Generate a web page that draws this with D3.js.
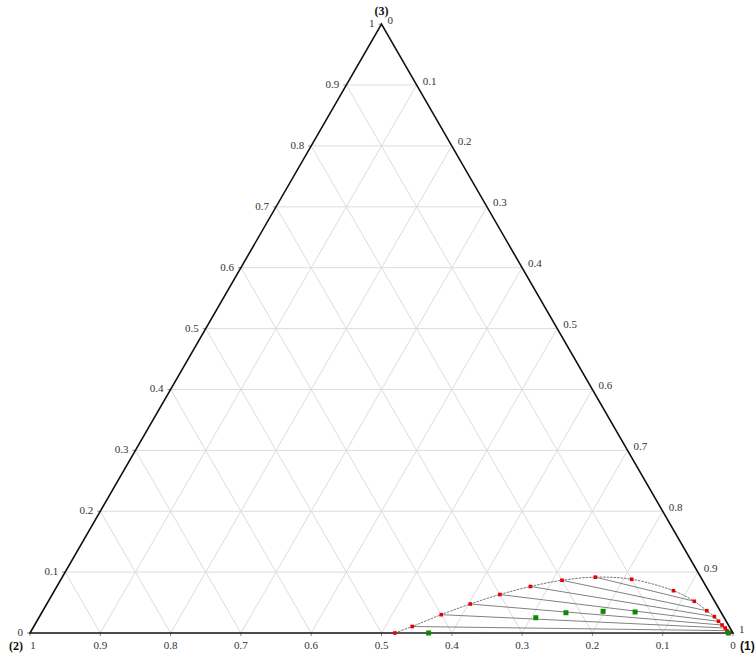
<!DOCTYPE html>
<html>
<head>
<meta charset="utf-8">
<script src="https://cdn.jsdelivr.net/npm/d3@7"></script>
<style>
  html, body { margin: 0; padding: 0; background: #fff; }
  svg { display: block; }
  .serif { font-family: "Liberation Serif", "Times New Roman", Times, serif; }
  .sans { font-family: "Liberation Sans", Arial, Helvetica, sans-serif; }
</style>
</head>
<body>
<script>
// Ternary LLE diagram: components (1), (2), (3) as mass fractions x1, x2, x3

// Tick values shared by all three axes
const tickValues = [0, 0.1, 0.2, 0.3, 0.4, 0.5, 0.6, 0.7, 0.8, 0.9, 1];
const tickLabels = ["0", "0.1", "0.2", "0.3", "0.4", "0.5", "0.6", "0.7", "0.8", "0.9", "1"];
const vertexNames = ["(1)", "(2)", "(3)"];

// Binodal (solubility) curve, from the (2)-rich side round to the (1) corner
const binodalX2 = [0.481, 0.451, 0.400, 0.350, 0.300, 0.250, 0.200, 0.150,
                   0.100, 0.050, 0.029, 0.019, 0.013, 0.011, 0.009, 0.007, 0.0067, 0.005];
const binodalX3 = [0.000, 0.0107, 0.0301, 0.0476, 0.0632, 0.0764, 0.0866, 0.0917,
                   0.0882, 0.0695, 0.0521, 0.0366, 0.0268, 0.0192, 0.0131, 0.0082, 0.0038, 0.0005];

// Tie lines: index of each end point in the binodal arrays
const tieStart = [0, 1, 2, 3, 4, 5, 6, 7];
const tieEnd   = [17, 16, 15, 14, 13, 12, 11, 10];

// Overall (feed) compositions
const feedX2 = [0.433, 0.268, 0.221, 0.167, 0.122, 0.0067];
const feedX3 = [0.000, 0.0251, 0.0333, 0.0356, 0.0345, 0.000];

const W = 756, H = 658;
const left = 30, right = 733, baseY = 633;
const side = right - left;
const tHeight = side * Math.sqrt(3) / 2;

// Horizontal position follows x1 + x3/2, vertical position follows x3
const sx = d3.scaleLinear().domain([0, 1]).range([left, right]);
const sy = d3.scaleLinear().domain([0, 1]).range([baseY, baseY - tHeight]);

function pt(x2, x3) {
  const x1 = 1 - x2 - x3;
  return [sx(x1 + x3 / 2), sy(x3)];
}

const svg = d3.select("body").append("svg")
  .attr("width", W).attr("height", H)
  .attr("viewBox", `0 0 ${W} ${H}`);

// Grid lines at every tenth, in all three directions
const grid = svg.append("g").attr("stroke", "#dcdcdc").attr("stroke-width", 1).attr("fill", "none");
tickValues.slice(1, -1).forEach(v => {
  // constant x3
  let a = pt(1 - v, v), b = pt(0, v);
  grid.append("line").attr("x1", a[0]).attr("y1", a[1]).attr("x2", b[0]).attr("y2", b[1]);
  // constant x2
  a = pt(v, 1 - v); b = pt(v, 0);
  grid.append("line").attr("x1", a[0]).attr("y1", a[1]).attr("x2", b[0]).attr("y2", b[1]);
  // constant x1
  a = pt(1 - v, 0); b = pt(0, 1 - v);
  grid.append("line").attr("x1", a[0]).attr("y1", a[1]).attr("x2", b[0]).attr("y2", b[1]);
});

// Small ticks on the bottom and left sides
const ticks = svg.append("g").attr("stroke", "#888").attr("stroke-width", 1);
tickValues.forEach(v => {
  const b = pt(v, 0);
  ticks.append("line").attr("x1", b[0]).attr("y1", b[1]).attr("x2", b[0]).attr("y2", b[1] + 3);
  const l = pt(1 - v, v);
  ticks.append("line").attr("x1", l[0]).attr("y1", l[1]).attr("x2", l[0] - 3).attr("y2", l[1]);
});

// Triangle frame: corner (1) at right, (2) at left, (3) at top
const P1 = pt(0, 0), P2 = pt(1, 0), P3 = pt(0, 1);
svg.append("path")
  .attr("d", `M${P1[0]},${P1[1]}L${P2[0]},${P2[1]}L${P3[0]},${P3[1]}Z`)
  .attr("fill", "none").attr("stroke", "#111").attr("stroke-width", 1.6)
  .attr("stroke-linejoin", "miter");

// Tick labels
const labels = svg.append("g").attr("class", "serif").attr("font-size", 11).attr("fill", "#333");
tickValues.forEach((v, i) => {
  // bottom axis: x2
  const b = pt(v, 0);
  labels.append("text").attr("x", b[0] + (v === 1 ? 3 : 0)).attr("y", b[1] + 16)
    .attr("text-anchor", "middle").text(tickLabels[i]);
  // left axis: x3
  const l = pt(1 - v, v);
  labels.append("text").attr("x", l[0] - 7).attr("y", l[1] + 3)
    .attr("text-anchor", "end").text(tickLabels[i]);
  // right axis: x1
  const r = pt(0, 1 - v);
  labels.append("text").attr("x", r[0] + 6).attr("y", r[1] - 0.5)
    .attr("text-anchor", "start").text(tickLabels[i]);
});

// Vertex titles
svg.append("text").attr("class", "serif").attr("x", P3[0]).attr("y", P3[1] - 9).attr("text-anchor", "middle")
  .attr("font-weight", "bold").attr("font-size", 12).attr("fill", "#111")
  .text(vertexNames[2]);
svg.append("text").attr("class", "serif").attr("x", P2[0] - 7).attr("y", P2[1] + 17).attr("text-anchor", "end")
  .attr("font-weight", "bold").attr("font-size", 12).attr("fill", "#111")
  .text(vertexNames[1]);
svg.append("text").attr("class", "sans").attr("x", P1[0] + 7).attr("y", P1[1] + 17).attr("text-anchor", "start")
  .attr("font-weight", "bold").attr("font-size", 12).attr("fill", "#111")
  .text(vertexNames[0]);

// Tie lines
const tie = svg.append("g").attr("stroke", "#6a6a6a").attr("stroke-width", 0.85);
tieStart.forEach((s, k) => {
  const e = tieEnd[k];
  const p = pt(binodalX2[s], binodalX3[s]);
  const q = pt(binodalX2[e], binodalX3[e]);
  tie.append("line").attr("x1", p[0]).attr("y1", p[1]).attr("x2", q[0]).attr("y2", q[1]);
});

// Binodal curve
const binodal = binodalX2.map((x2, i) => pt(x2, binodalX3[i]));
svg.append("path")
  .attr("d", d3.line().curve(d3.curveCatmullRom.alpha(0.5))(binodal))
  .attr("fill", "none").attr("stroke", "#777").attr("stroke-width", 1)
  .attr("stroke-dasharray", "2.5,1");

// Binodal data points
svg.append("g").selectAll("rect").data(binodal).join("rect")
  .attr("x", d => d[0] - 1.8).attr("y", d => d[1] - 1.8)
  .attr("width", 3.6).attr("height", 3.6).attr("fill", "#e60000");

// Feed points
const feeds = feedX2.map((x2, i) => pt(x2, feedX3[i]));
svg.append("g").selectAll("rect").data(feeds).join("rect")
  .attr("x", d => d[0] - 2.5).attr("y", d => d[1] - 2.5)
  .attr("width", 5).attr("height", 5).attr("fill", "#0a8a0a");
</script>
</body>
</html>
